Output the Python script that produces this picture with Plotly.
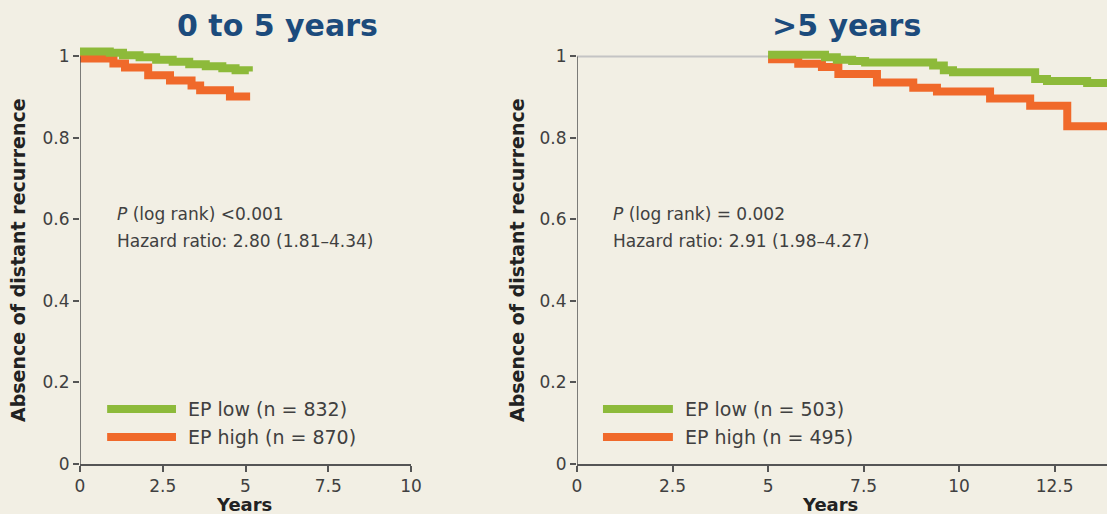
import plotly.graph_objects as go

# Kaplan-Meier step data: absence of distant recurrence by EP score group
early_low_years = [0, 0.9, 1.3, 1.8, 2.3, 2.8, 3.3, 3.8, 4.3, 4.7, 5.1]
early_low_surv = [1.012, 1.009, 1.003, 0.998, 0.992, 0.987, 0.981, 0.976, 0.971, 0.966, 0.963]
early_high_years = [0, 1.01, 1.36, 2.06, 2.72, 3.37, 3.63, 4.53, 5.14]
early_high_surv = [0.995, 0.983, 0.973, 0.954, 0.941, 0.929, 0.917, 0.902, 0.902]

late_ref_years = [0, 5]
late_ref_surv = [1, 1]
late_low_years = [5, 6.49, 6.8, 7.2, 7.54, 9.32, 9.6, 9.84, 11.99, 12.3, 13.35, 14.0]
late_low_surv = [1.004, 0.998, 0.992, 0.989, 0.985, 0.978, 0.966, 0.961, 0.945, 0.940, 0.935, 0.935]
late_high_years = [5, 5.79, 6.41, 6.84, 7.85, 8.8, 9.42, 10.81, 11.86, 12.83, 14.0]
late_high_surv = [0.993, 0.982, 0.974, 0.957, 0.936, 0.923, 0.914, 0.897, 0.879, 0.829, 0.829]

x_ticks_early = [0, 2.5, 5, 7.5, 10]
x_ticks_late = [0, 2.5, 5, 7.5, 10, 12.5]
y_ticks = [0, 0.2, 0.4, 0.6, 0.8, 1]
y_tick_text = ["0", "0.2", "0.4", "0.6", "0.8", "1"]

legend_early = ["EP low (n = 832)", "EP high (n = 870)"]
legend_late = ["EP low (n = 503)", "EP high (n = 495)"]
stats_early = ["<i>P</i> (log rank) <0.001", "Hazard ratio: 2.80 (1.81\u20134.34)"]
stats_late = ["<i>P</i> (log rank) = 0.002", "Hazard ratio: 2.91 (1.98\u20134.27)"]
titles = ["0 to 5 years", ">5 years"]

GREEN = "#8dba3a"
ORANGE = "#f0692a"
GREY_REF = "#c4c4c4"
AXIS = "#555555"
TEXT = "#404040"
NAVY = "#1c4b7c"
BG = "#f2efe4"
FONT = "DejaVu Sans"

W, H = 1107, 514

fig = go.Figure()


def add_step(x, y, color, width, xa, ya):
    fig.add_trace(go.Scatter(x=x, y=y, mode="lines", line=dict(color=color, width=width, shape="hv"),
                             xaxis=xa, yaxis=ya, showlegend=False, hoverinfo="skip"))


add_step(early_high_years, early_high_surv, ORANGE, 8, "x", "y")
add_step(early_low_years, early_low_surv, GREEN, 8, "x", "y")
add_step(late_ref_years, late_ref_surv, GREY_REF, 2, "x2", "y2")
add_step(late_high_years, late_high_surv, ORANGE, 8, "x2", "y2")
add_step(late_low_years, late_low_surv, GREEN, 8, "x2", "y2")

y_dom = [(H - 464) / H, (H - 42.2) / H]
tick_font = dict(family=FONT, size=17, color=TEXT)

common_x = dict(showgrid=False, zeroline=False, showline=True, linecolor=AXIS, linewidth=1.5,
                ticks="outside", ticklen=6, tickcolor=AXIS, tickwidth=1.5, tickfont=tick_font,
                automargin=False)
common_y = dict(showgrid=False, zeroline=False, showline=False, range=[0, 1.035], domain=y_dom,
                ticks="outside", ticklen=6, tickcolor=AXIS, tickwidth=1.5, tickfont=tick_font,
                tickvals=y_ticks, ticktext=y_tick_text, automargin=False)

fig.update_layout(
    width=W, height=H,
    margin=dict(l=0, r=0, t=0, b=0, autoexpand=False),
    paper_bgcolor=BG, plot_bgcolor=BG,
    showlegend=False,
    xaxis=dict(common_x, domain=[80 / W, 411 / W], range=[0, 10], tickvals=x_ticks_early,
               ticktext=[str(v) for v in x_ticks_early], anchor="y"),
    yaxis=dict(common_y, anchor="x"),
    xaxis2=dict(common_x, domain=[577 / W, 1.0], range=[0, 13.87], tickvals=x_ticks_late,
                ticktext=[str(v) for v in x_ticks_late], anchor="y2"),
    yaxis2=dict(common_y, anchor="x2"),
)

shapes = []
annotations = []

# y-axis lines span 0..1 only
for xr, yr in (("x", "y"), ("x2", "y2")):
    shapes.append(dict(type="line", xref=xr, yref=yr, x0=0, x1=0, y0=0, y1=1,
                       line=dict(color=AXIS, width=1.5)))

# legend keys and labels
for xr, yr, x0, x1, labels in (("x", "y", 0.82, 2.9, legend_early),
                                ("x2", "y2", 0.68, 2.51, legend_late)):
    for y, color, label in ((0.135, GREEN, labels[0]), (0.066, ORANGE, labels[1])):
        shapes.append(dict(type="line", xref=xr, yref=yr, x0=x0, x1=x1, y0=y, y1=y,
                           line=dict(color=color, width=8)))
        annotations.append(dict(xref=xr, yref=yr, x=x1, y=y, xshift=10, text=label,
                                showarrow=False, xanchor="left", yanchor="middle",
                                font=dict(family=FONT, size=19, color=TEXT)))

# statistics text
for px_x, lines in ((115, stats_early), (611, stats_late)):
    for py, line in ((214, lines[0]), (241, lines[1])):
        annotations.append(dict(xref="paper", yref="paper", x=px_x / W, y=1 - py / H, text=line,
                                showarrow=False, xanchor="left", yanchor="middle",
                                font=dict(family=FONT, size=17, color=TEXT)))

# panel titles
for px_x, title in ((277, titles[0]), (846, titles[1])):
    annotations.append(dict(xref="paper", yref="paper", x=px_x / W, y=1 - 25 / H, text="<b>%s</b>" % title,
                            showarrow=False, xanchor="center", yanchor="middle",
                            font=dict(family=FONT, size=30, color=NAVY)))

# axis titles
for px_x in (244, 830):
    annotations.append(dict(xref="paper", yref="paper", x=px_x / W, y=1 - 504 / H, text="<b>Years</b>",
                            showarrow=False, xanchor="center", yanchor="middle",
                            font=dict(family=FONT, size=18, color="#222222")))
for px_x in (18, 517):
    annotations.append(dict(xref="paper", yref="paper", x=px_x / W, y=1 - 260 / H,
                            text="<b>Absence of distant recurrence</b>", textangle=-90,
                            showarrow=False, xanchor="center", yanchor="middle",
                            font=dict(family=FONT, size=19, color="#222222")))

fig.update_layout(shapes=shapes, annotations=annotations)

fig.write_html("out.html")
